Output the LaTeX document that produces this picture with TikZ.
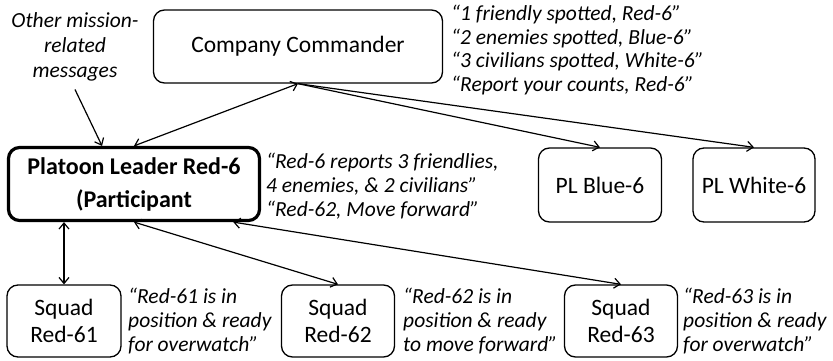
\documentclass[tikz,border=0pt]{standalone}
\usepackage{fontspec}
\setmainfont{Carlito}
\usetikzlibrary{arrows.meta,positioning}

\begin{document}
\begin{tikzpicture}[x=1pt, y=-1pt,
    unit/.style={rectangle, rounded corners=11pt, draw, line width=1.3pt,
                 align=center, inner sep=0pt, font=\fontsize{23.5}{27}\selectfont},
    msg/.style={align=left, inner sep=0pt, anchor=west,
                font=\fontsize{21.5}{24}\selectfont\itshape},
    link/.style={-{Straight Barb[length=6pt,width=10pt]}, line width=1.2pt},
    dlink/.style={{Straight Barb[length=6pt,width=10pt]}-{Straight Barb[length=6pt,width=10pt]}, line width=1.2pt}
  ]
  \useasboundingbox (0,0) rectangle (833,361);
  % units
  \node[unit, minimum width=289pt, minimum height=73pt] (cc) at (298,46.5) {Company Commander};
  \node[unit, minimum width=251pt, minimum height=73pt, line width=3.2pt,
        font=\fontsize{24}{33}\selectfont\bfseries] (pl) at (134,184) {Platoon Leader Red-6\\(Participant};
  \node[unit, minimum width=123pt, minimum height=74pt] (blue) at (600,185) {PL Blue-6};
  \node[unit, minimum width=122pt, minimum height=74pt] (white) at (754,185) {PL White-6};
  \node[unit, minimum width=114pt, minimum height=72pt] (s61) at (64,321) {Squad\\Red-61};
  \node[unit, minimum width=113pt, minimum height=72pt] (s62) at (338,321) {Squad\\Red-62};
  \node[unit, minimum width=113pt, minimum height=72pt] (s63) at (621,321) {Squad\\Red-63};
  % messages
  \node[msg, anchor=center, align=center, font=\fontsize{21.5}{25}\selectfont\itshape] (other) at (75,47) {Other mission-\\related\\messages};
  \node[msg, font=\fontsize{21.5}{23.4}\selectfont\itshape] (ccmsg) at (451,50) {``1 friendly spotted, Red-6''\\``2 enemies spotted, Blue-6''\\``3 civilians spotted, White-6''\\``Report your counts, Red-6''};
  \node[msg] (plmsg) at (266,186) {``Red-6 reports 3 friendlies,\\4 enemies, \& 2 civilians''\\``Red-62, Move forward''};
  \node[msg] (m61) at (128,321) {``Red-61 is in\\position \& ready\\for overwatch''};
  \node[msg] (m62) at (403,321) {``Red-62 is in\\position \& ready\\to move forward''};
  \node[msg] (m63) at (683,321) {``Red-63 is in\\position \& ready\\for overwatch''};
  % connectors
  \draw[link] ([yshift=-8pt]other.south) -- (pl.130);
  \draw[dlink] (cc.south) -- (pl.north);
  \draw[link] (cc.south) -- (blue.north);
  \draw[link] (cc.south) -- (white.north);
  \draw[dlink] (pl.south -| s61.north) -- (s61.north);
  \draw[dlink] (pl.south) -- (s62.north);
  \draw[dlink] (pl.-21) -- (s63.north);
\end{tikzpicture}
\end{document}
